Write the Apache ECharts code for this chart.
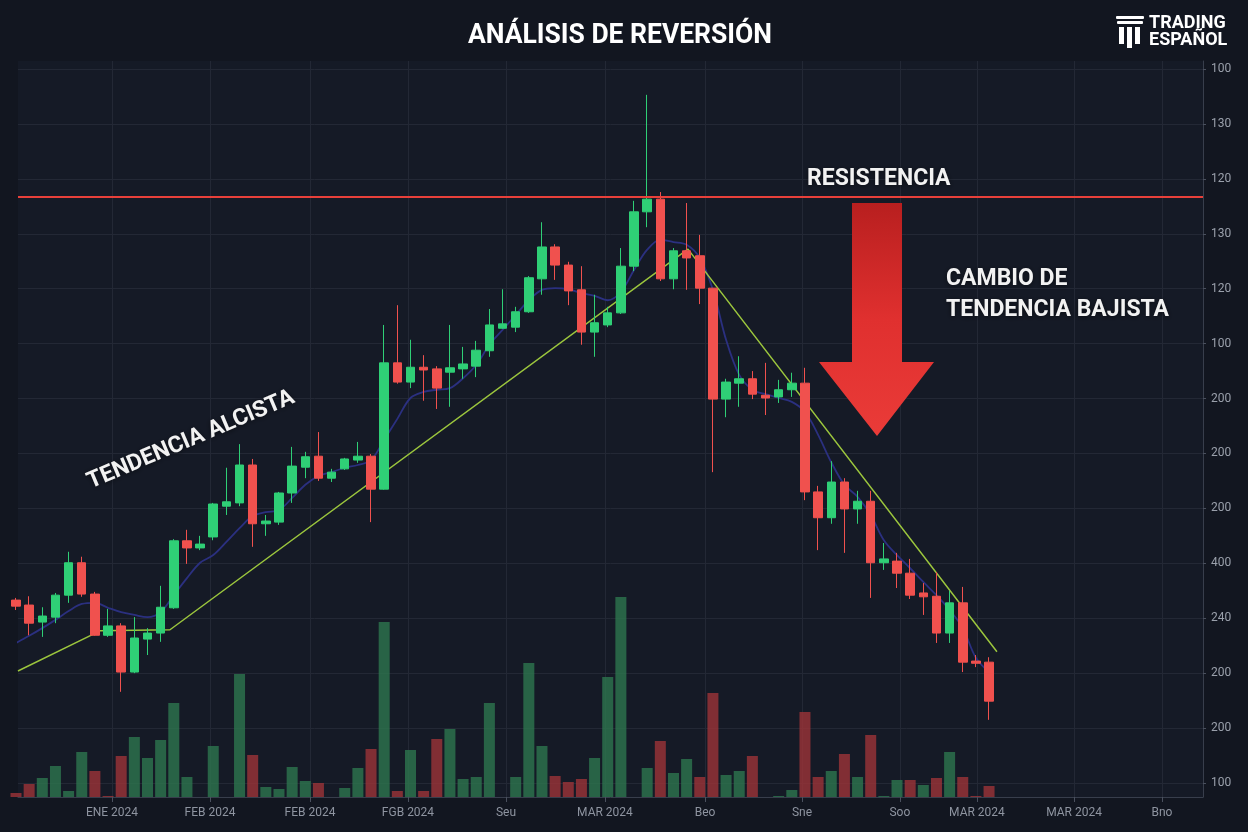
<!DOCTYPE html>
<html><head><meta charset="utf-8">
<script src="https://cdn.jsdelivr.net/npm/echarts@6/dist/echarts.min.js"></script>
<style>html,body{margin:0;padding:0;background:#121620;}#chart{width:1248px;height:832px;}</style>
</head><body><div id="chart"></div>
<script>
// ---- data ----
const opens = [133.3,132.4,129.3,130.2,134.2,140.1,134.4,126.9,128.6,120.2,
  126.2,127.3,131.9,144.1,142.8,144.8,150.4,151.0,157.9,147.2,
  147.5,152.8,157.5,159.5,155.5,157.2,158.8,159.5,153.5,176.5,
  173.0,175.7,175.4,174.8,175.4,175.9,178.7,182.8,183.0,185.8,
  191.8,197.6,194.3,189.8,182.1,183.4,185.6,194.1,204.0,206.3,
  191.8,196.9,196.0,190.1,169.9,172.8,173.6,170.6,170.3,171.6,
  172.8,153.0,148.3,154.8,149.9,151.3,140.1,140.4,138.2,134.6,
  134.0,127.3,132.8,122.2,122.0];
const closes = [132.2,129.1,130.4,134.2,140.1,134.4,126.9,128.6,120.2,126.4,
  127.3,132.0,144.1,142.8,143.5,150.8,151.2,157.9,147.2,147.7,
  152.8,157.7,159.4,155.5,156.6,159.0,159.5,153.5,176.5,173.0,
  175.7,175.2,171.9,175.6,176.3,178.8,183.4,183.6,185.8,192.0,
  197.6,194.3,189.6,182.1,183.8,185.6,194.1,204.0,206.3,191.8,
  196.9,195.6,190.1,169.9,173.0,173.6,170.8,170.1,171.6,172.8,
  153.0,148.3,154.8,149.9,151.3,140.1,140.8,138.2,134.2,133.9,
  127.3,132.8,122.0,121.8,114.9];
const lows = [131.5,126.9,126.6,129.1,132.8,133.9,126.8,126.6,116.6,120.0,
  123.3,125.7,131.7,139.9,142.4,144.2,148.8,150.4,143.0,145.0,
  147.0,151.0,155.5,155.0,154.8,157.0,158.3,147.5,153.4,172.7,
  171.9,169.6,168.1,168.5,173.6,173.9,177.6,182.7,182.1,185.6,
  188.9,191.6,187.0,179.8,177.6,183.0,185.4,193.2,201.2,191.4,
  189.9,189.8,187.2,156.6,166.6,168.5,169.9,167.0,169.2,170.3,
  151.5,142.4,147.2,141.9,147.2,133.7,138.8,135.5,133.5,130.6,
  125.5,125.5,120.2,121.1,111.5];
const highs = [133.7,134.0,132.0,134.6,142.1,141.2,134.8,131.7,129.1,130.2,
  128.2,135.9,144.4,146.1,145.0,151.0,157.4,161.7,159.0,148.8,
  153.0,161.2,160.3,163.9,157.2,159.2,162.1,159.9,183.4,187.0,
  180.7,177.9,175.9,183.4,179.4,180.5,186.3,189.9,186.7,192.3,
  202.1,198.1,194.9,194.1,188.9,186.7,197.4,206.0,225.3,207.6,
  197.4,205.6,199.8,190.1,173.6,177.7,175.0,176.5,173.4,174.7,
  175.6,154.1,158.6,155.5,153.2,153.2,143.7,141.9,140.8,136.4,
  138.4,135.0,135.7,123.3,122.9];
const maValues = [125.5,126.8,128.2,129.7,131.3,132.6,132.8,131.9,131.1,130.6,
  130.2,131.1,134.2,137.3,140.1,141.5,143.9,146.4,148.6,149.3,
  149.7,151.9,154.3,155.9,156.6,157.4,157.9,158.8,162.5,166.3,
  170.1,171.2,171.6,171.9,173.7,176.1,179.8,182.5,185.2,187.9,
  189.8,190.1,189.9,189.2,188.7,187.9,189.4,193.4,197.1,198.9,
  198.5,198.0,195.6,189.8,180.7,174.3,171.6,170.8,170.1,169.4,
  167.6,163.4,158.4,154.3,152.1,148.8,144.2,141.5,139.1,136.6,
  134.2,131.5,128.2,122.8,120.2];
const volumes = [20,65,95,155,30,225,130,5,205,300,
  195,285,470,100,0,255,0,615,210,50,
  40,150,80,70,0,45,145,240,875,30,
  235,30,290,340,90,100,470,0,100,670,
  255,105,75,90,195,600,1000,0,145,280,
  120,190,100,520,110,130,205,0,5,35,
  425,100,130,215,100,310,5,85,85,60,
  95,225,100,5,55];
const volumeUp = [0,0,1,1,1,1,0,0,0,1,
  1,1,1,1,1,1,1,1,0,1,
  1,1,1,0,1,1,1,0,1,0,
  1,0,0,1,1,1,1,1,1,1,
  1,0,0,0,1,1,1,1,1,0,
  1,1,0,0,1,1,0,0,1,1,
  0,0,1,0,1,0,1,1,0,1,
  0,1,0,0,0];
const trendX = [0.15, 6.39, 11.71, 51.1, 74.6];
const trendY = [120.4, 127.7, 127.9, 197.2, 123.9];
const resistanceLevel = 206.7;
const xTickPos = [7.30, 14.75, 22.36, 29.81, 37.26, 44.79, 52.40, 59.77, 67.22, 73.08, 80.46, 87.15];
const xTickLabels = ['ENE 2024','FEB 2024','FEB 2024','FGB 2024','Seu','MAR 2024','Beo','Sne','Soo','MAR 2024','MAR 2024','Bno'];
const yTickLabels = ['100','130','120','130','120','100','200','200','200','400','240','200','200','100'];
const yTickTop = 230, yTickStep = 10;

// ---- build ----
const ohlc = opens.map((o, i) => [i, o, closes[i], lows[i], highs[i]]);
const maData = maValues.map((v, i) => [i, v]);
const volData = volumes.map((v, i) => ({
  value: [i, v],
  itemStyle: { color: volumeUp[i] ? 'rgba(46,120,80,0.78)' : 'rgba(160,52,56,0.78)' }
}));
const trendData = trendX.map((x, i) => [x, trendY[i]]);

const GREEN = '#2fcf76', RED = '#f0514e';
const txtShadow = { textShadowColor: 'rgba(0,0,0,0.55)', textShadowBlur: 5, textShadowOffsetY: 1 };

const chart = echarts.init(document.getElementById('chart'), null, { renderer: 'canvas' });
chart.setOption({
  backgroundColor: '#121620',
  animation: false,
  textStyle: { fontFamily: 'Roboto' },
  grid: { left: 18, right: 45, top: 61, bottom: 35, show: true, backgroundColor: '#151a26', borderWidth: 0 },
  xAxis: [{
    type: 'value', min: 0.152, max: 90.27,
    axisLine: { show: true, lineStyle: { color: '#383e4c', width: 1 } },
    axisTick: { show: true, customValues: xTickPos, length: 5, lineStyle: { color: '#4a505e' } },
    axisLabel: {
      customValues: xTickPos, color: '#8e94a0', fontSize: 12, margin: 10,
      formatter: (v) => {
        let best = 0;
        xTickPos.forEach((p, k) => { if (Math.abs(p - v) < Math.abs(xTickPos[best] - v)) best = k; });
        return xTickLabels[best];
      }
    },
    splitLine: { show: true, lineStyle: { color: '#232835', width: 1 } }
  }],
  yAxis: [{
    type: 'value', position: 'right', min: 97.45, max: 231.46,
    splitNumber: 13, minInterval: 10, maxInterval: 10,
    axisLine: { show: true, lineStyle: { color: '#383e4c' } },
    axisTick: { show: true, length: 3, lineStyle: { color: '#4a505e' } },
    axisLabel: {
      color: '#9aa0ab', fontSize: 12, margin: 8, showMinLabel: false, showMaxLabel: false,
      formatter: (v) => {
        const k = Math.round((yTickTop - v) / yTickStep);
        if (Math.abs(yTickTop - v - k * yTickStep) > 0.01 || k < 0 || k >= yTickLabels.length) return '';
        return yTickLabels[k];
      }
    },
    splitLine: { show: true, showMinLine: false, showMaxLine: false, lineStyle: { color: '#232835', width: 1 } }
  }, {
    type: 'value', min: 0, max: 3680, show: false
  }],
  series: [{
    name: 'Volumen', type: 'bar', xAxisIndex: 0, yAxisIndex: 1, barWidth: 11,
    data: volData, z: 1, silent: true, clip: true
  }, {
    name: 'MA', type: 'line', data: maData, smooth: 0.35, showSymbol: false, symbol: 'none',
    lineStyle: { color: '#2b3080', width: 1.8 }, z: 2, clip: true,
    markLine: {
      silent: true, symbol: ['none', 'none'], label: { show: false },
      lineStyle: { color: '#e8403a', width: 2, type: 'solid' },
      data: [{ yAxis: resistanceLevel }]
    }
  }, {
    name: 'Tendencia', type: 'line', data: trendData, showSymbol: false, symbol: 'none',
    lineStyle: { color: '#9bc53d', width: 1.5 }, z: 3, clip: true
  }, {
    name: 'Precio', type: 'candlestick', data: ohlc, clip: true,
    dimensions: ['x', 'open', 'close', 'lowest', 'highest'],
    encode: { x: 0, y: [1, 2, 3, 4] },
    barWidth: 9, z: 4,
    itemStyle: { color: GREEN, color0: RED, borderColor: GREEN, borderColor0: RED, borderWidth: 1 }
  }],
  graphic: [
    { type: 'text', x: 620, y: 36, scaleX: 0.98, z: 10,
      style: { text: 'ANÁLISIS DE REVERSIÓN', fill: '#ffffff', font: 'bold 27px Roboto', align: 'center', verticalAlign: 'middle' } },
    // logo
    { type: 'rect', shape: { x: 1116, y: 16, width: 28, height: 3, r: 1 }, style: { fill: '#ffffff' }, z: 10 },
    { type: 'rect', shape: { x: 1117, y: 21, width: 26, height: 3, r: 1 }, style: { fill: '#ffffff' }, z: 10 },
    { type: 'rect', shape: { x: 1119, y: 27, width: 5, height: 17 }, style: { fill: '#ffffff' }, z: 10 },
    { type: 'rect', shape: { x: 1127, y: 27, width: 5, height: 21 }, style: { fill: '#ffffff' }, z: 10 },
    { type: 'rect', shape: { x: 1135, y: 27, width: 5, height: 17 }, style: { fill: '#ffffff' }, z: 10 },
    { type: 'text', x: 1149, y: 23, z: 10, style: { text: 'TRADING', fill: '#ffffff', font: 'bold 18px Roboto', verticalAlign: 'middle' } },
    { type: 'text', x: 1149, y: 40, z: 10, style: { text: 'ESPAÑOL', fill: '#ffffff', font: 'bold 18px Roboto', verticalAlign: 'middle' } },
    // arrow
    { type: 'polygon', z: 6,
      shape: { points: [[852,203],[902,203],[902,362],[934,362],[877,436],[819,362],[852,362]] },
      style: { fill: new echarts.graphic.LinearGradient(0, 0, 0, 1, [
        { offset: 0, color: '#b81f1f' }, { offset: 0.5, color: '#e0302f' }, { offset: 1, color: '#ea3b38' }]) } },
    // annotations
    { type: 'text', x: 807, y: 179, z: 10, style: Object.assign({ text: 'RESISTENCIA', fill: '#f2f2f2', font: 'bold 23px Roboto', verticalAlign: 'middle' }, txtShadow) },
    { type: 'text', x: 946, y: 279, z: 10, style: Object.assign({ text: 'CAMBIO DE', fill: '#f2f2f2', font: 'bold 23px Roboto', verticalAlign: 'middle' }, txtShadow) },
    { type: 'text', x: 946, y: 310, z: 10, style: Object.assign({ text: 'TENDENCIA BAJISTA', fill: '#f2f2f2', font: 'bold 23px Roboto', verticalAlign: 'middle' }, txtShadow) },
    { type: 'text', x: 191, y: 440, rotation: 22.9 * Math.PI / 180, z: 10,
      style: Object.assign({ text: 'TENDENCIA ALCISTA', fill: '#f2f2f2', font: 'bold 23px Roboto', align: 'center', verticalAlign: 'middle' }, txtShadow) }
  ]
});
</script>
</body></html>
